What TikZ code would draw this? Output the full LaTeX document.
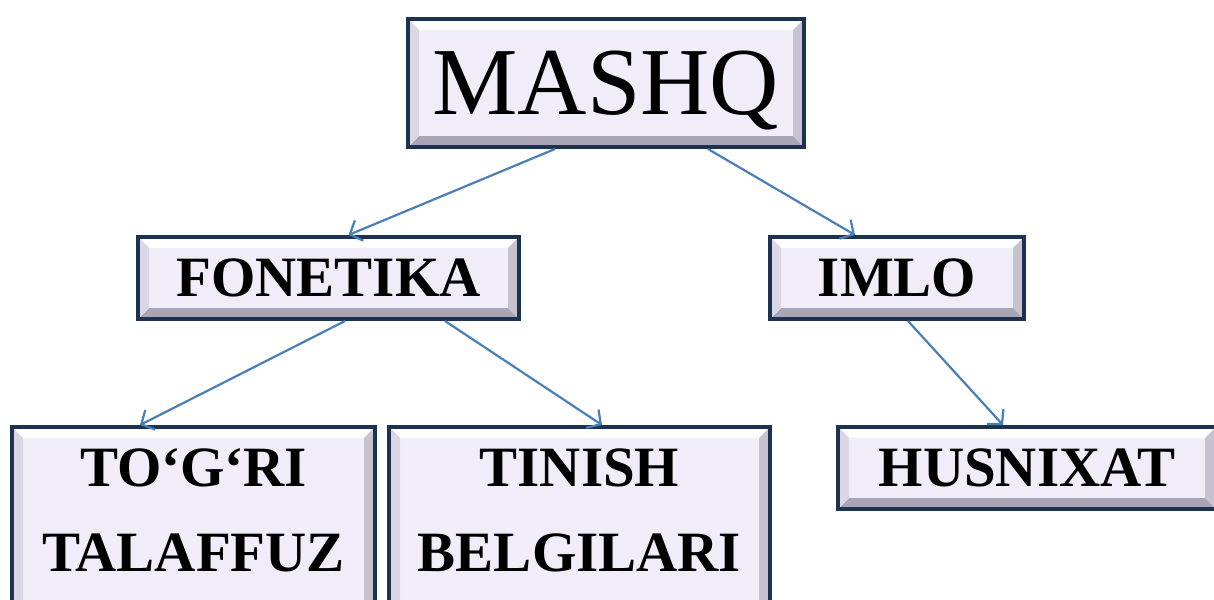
\documentclass[tikz,border=0pt]{standalone}
\usepackage{fontspec}
\setmainfont{Liberation Serif}
\usetikzlibrary{positioning,calc,arrows.meta}

\definecolor{boxfill}{HTML}{F0ECF8}
\definecolor{boxedge}{HTML}{1B3350}
\definecolor{bevleft}{HTML}{DAD6E3}
\definecolor{bevright}{HTML}{C6C2D0}
\definecolor{bevbot}{HTML}{A9A5B5}
\definecolor{arrowblue}{HTML}{4A7EBB}

\tikzset{
  bevel/.style={path picture={
      \path (path picture bounding box.south west) coordinate (bsw)
            (path picture bounding box.north east) coordinate (bne);
      \fill[white] (bsw|-bne) -- (bne) -- ($(bne)+(-11pt,-11pt)$) -- ($(bsw|-bne)+(11pt,-11pt)$) -- cycle;
      \fill[bevbot] (bsw) -- (bsw-|bne) -- ($(bsw-|bne)+(-11pt,11pt)$) -- ($(bsw)+(11pt,11pt)$) -- cycle;
      \fill[bevleft] (bsw) -- (bsw|-bne) -- ($(bsw|-bne)+(11pt,-11pt)$) -- ($(bsw)+(11pt,11pt)$) -- cycle;
      \fill[bevright] (bne) -- (bsw-|bne) -- ($(bsw-|bne)+(-11pt,11pt)$) -- ($(bne)+(-11pt,-11pt)$) -- cycle;
  }},
  box/.style={draw=boxedge,line width=4pt,fill=boxfill,inner sep=0pt,bevel,
    font=\bfseries\fontsize{57}{85}\selectfont},
  link/.style={draw=arrowblue,line width=2.2pt,-{Straight Barb[length=10pt,width=22pt]}}
}

\begin{document}
\begin{tikzpicture}[x=1pt,y=-1pt]
                \useasboundingbox (0,0) rectangle (1214,599);
                \node[box,minimum width=396pt,minimum height=128pt,text depth=0pt,
                      font=\fontsize{96}{110}\selectfont] (mashq) at (606,83) {MASHQ};
                \node[box,minimum width=381pt,minimum height=82pt,below=86pt of mashq,xshift=-277.5pt] (fonetika) {FONETIKA};
                \node[box,minimum width=254pt,minimum height=82pt,below=86pt of mashq,xshift=291pt] (imlo) {IMLO};
                \node[box,minimum width=363pt,below=104pt of fonetika,xshift=-135pt] (togri)
                      {\begin{tabular}{@{}c@{}}TO‘G‘RI\\TALAFFUZ\\[16pt]\end{tabular}};
                \node[box,minimum width=381pt,right=10pt of togri] (tinish)
                      {\begin{tabular}{@{}c@{}}TINISH\\BELGILARI\\[16pt]\end{tabular}};
                \node[box,minimum width=378pt,minimum height=82pt,below=104pt of imlo,xshift=130pt] (husnixat) {HUSNIXAT};
                \draw[link] ([xshift=-51pt]mashq.south) -- ([xshift=20pt]fonetika.north);
                \draw[link] ([xshift=102pt]mashq.south) -- ([xshift=-42pt]imlo.north);
                \draw[link] ([xshift=16.5pt]fonetika.south) -- ([xshift=-53.5pt]togri.north);
                \draw[link] ([xshift=116.5pt]fonetika.south) -- ([xshift=22.5pt]tinish.north);
                \draw[link] ([xshift=11pt]imlo.south) -- ([xshift=-24pt]husnixat.north);
\end{tikzpicture}
\end{document}
